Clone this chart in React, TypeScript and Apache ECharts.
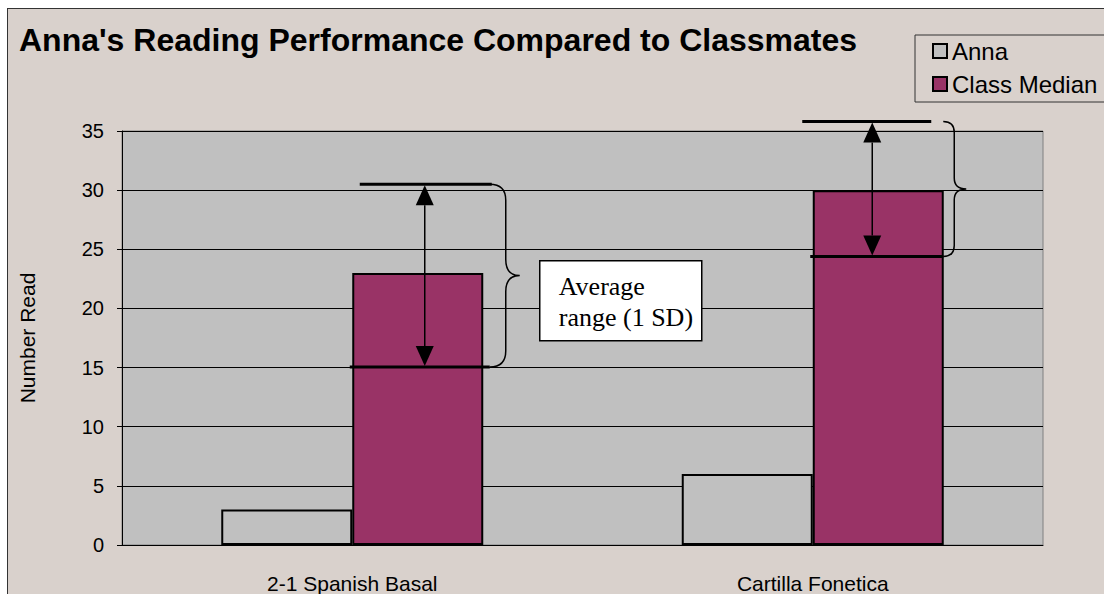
import React, { useEffect, useRef } from 'react';
import * as echarts from 'echarts';

// ---- data ----
const categories = ['2-1 Spanish Basal', 'Cartilla Fonetica'];
const annaValues = [3, 6];
const medianValues = [23, 30];
const sdLow = [15.05, 24.4];
const sdHigh = [30.5, 35.8];
const seriesNames = ['Anna', 'Class Median'];
const titleText = "Anna's Reading Performance Compared to Classmates";
const noteLines = ['Average', 'range (1 SD)'];

// ---- layout (annotation offsets relative to median bar centre) ----
const BAR_W = 131;
const annLayout = [
  { up: [-58, 74], low: [-68, 72], arrow: 7, brace: 72, r: 16, t: 14 },
  { up: [-76, 53], low: [-68, 65], arrow: -6, brace: 65, r: 11, t: 12 },
];

echarts.graphic.registerShape(
  'brace',
  (echarts.graphic as any).extendShape({
    shape: { x: 0, y1: 0, y2: 0, r: 15, t: 14 },
    buildPath(ctx: any, s: any) {
      const { x, y1, y2, r, t } = s;
      const ym = (y1 + y2) / 2;
      const xv = x + r;
      ctx.moveTo(x, y1);
      ctx.quadraticCurveTo(xv, y1, xv, y1 + r);
      ctx.lineTo(xv, ym - r);
      ctx.quadraticCurveTo(xv, ym, xv + t, ym);
      ctx.quadraticCurveTo(xv, ym, xv, ym + r);
      ctx.lineTo(xv, y2 - r);
      ctx.quadraticCurveTo(xv, y2, x, y2);
    },
  })
);

const SANS = 'Liberation Sans, Arial, sans-serif';
const SERIF = 'Liberation Serif, Times New Roman, serif';

export default function App() {
  const ref = useRef<HTMLDivElement>(null);
  useEffect(() => {
    if (!ref.current) return;
    const chart = echarts.init(ref.current, undefined, { renderer: 'svg' });
    chart.setOption({
      animation: false,
      backgroundColor: 'transparent',
      textStyle: { fontFamily: SANS },
      title: {
        text: titleText,
        left: 19,
        top: 24,
        padding: 0,
        textStyle: { fontSize: 32, fontWeight: 'bold', color: '#000', fontFamily: SANS },
      },
      legend: {
        orient: 'vertical',
        left: 915,
        top: 35,
        padding: [4, 20, 6, 17],
        itemGap: 9,
        itemWidth: 14,
        itemHeight: 14,
        icon: 'rect',
        borderColor: '#333',
        borderWidth: 1,
        textStyle: { fontSize: 24, color: '#000', fontFamily: SANS },
        data: [
          { name: seriesNames[0], itemStyle: { color: '#C0C0C0', borderColor: '#000', borderWidth: 2 } },
          { name: seriesNames[1], itemStyle: { color: '#993366', borderColor: '#000', borderWidth: 2 } },
        ],
      },
      grid: {
        left: 122,
        top: 131,
        right: 61,
        bottom: 49,
        show: true,
        backgroundColor: '#C0C0C0',
        borderColor: '#808080',
        borderWidth: 1,
      },
      xAxis: {
        type: 'category',
        data: categories,
        axisLine: { lineStyle: { color: '#000', width: 1 } },
        axisTick: { length: 6, lineStyle: { color: '#000' } },
        axisLabel: { fontSize: 21, color: '#000', margin: 28, fontFamily: SANS },
      },
      yAxis: {
        type: 'value',
        min: 0,
        max: 35,
        interval: 5,
        name: 'Number Read',
        nameLocation: 'middle',
        nameGap: 84,
        nameTextStyle: { fontSize: 21, color: '#000', fontFamily: SANS },
        axisLine: { show: true, lineStyle: { color: '#000' } },
        axisTick: { show: true, length: 5, lineStyle: { color: '#000' } },
        axisLabel: { fontSize: 20, color: '#000', margin: 18, fontFamily: SANS },
        splitLine: { lineStyle: { color: '#000', width: 1 } },
      },
      series: [
        {
          name: seriesNames[0],
          type: 'bar',
          data: annaValues,
          barWidth: BAR_W,
          barGap: '0%',
          itemStyle: { color: '#C0C0C0', borderColor: '#000', borderWidth: 2 },
        },
        {
          name: seriesNames[1],
          type: 'bar',
          data: medianValues,
          barWidth: BAR_W,
          barGap: '0%',
          itemStyle: { color: '#993366', borderColor: '#000', borderWidth: 2 },
        },
      ],
    });

    const elements: any[] = [];
    categories.forEach((_, i) => {
      const pHigh = chart.convertToPixel({ gridIndex: 0 }, [i, sdHigh[i]]) as number[];
      const pLow = chart.convertToPixel({ gridIndex: 0 }, [i, sdLow[i]]) as number[];
      const bc = pHigh[0] + BAR_W / 2;
      const yH = pHigh[1];
      const yL = pLow[1];
      const L = annLayout[i];
      const lineStyle = { stroke: '#000', lineWidth: 3 };
      elements.push({ type: 'line', z: 100, shape: { x1: bc + L.up[0], y1: yH, x2: bc + L.up[1], y2: yH }, style: lineStyle });
      elements.push({ type: 'line', z: 100, shape: { x1: bc + L.low[0], y1: yL, x2: bc + L.low[1], y2: yL }, style: lineStyle });
      const ax = bc + L.arrow;
      const hl = 21;
      const hw = 9;
      elements.push({ type: 'line', z: 100, shape: { x1: ax, y1: yH + hl, x2: ax, y2: yL - hl }, style: { stroke: '#000', lineWidth: 1.5 } });
      elements.push({ type: 'polygon', z: 100, shape: { points: [[ax, yH + 1], [ax - hw, yH + hl], [ax + hw, yH + hl]] }, style: { fill: '#000' } });
      elements.push({ type: 'polygon', z: 100, shape: { points: [[ax, yL - 1], [ax - hw, yL - hl], [ax + hw, yL - hl]] }, style: { fill: '#000' } });
      elements.push({
        type: 'brace',
        z: 100,
        shape: { x: bc + L.brace, y1: yH, y2: yL, r: L.r, t: L.t },
        style: { stroke: '#000', lineWidth: 1.5, fill: 'none' },
      });
    });
    elements.push({
      type: 'group',
      left: 539,
      top: 260,
      z: 100,
      children: [
        { type: 'rect', shape: { x: 0, y: 0, width: 162, height: 80 }, style: { fill: '#fff', stroke: '#000', lineWidth: 1.5 } },
        {
          type: 'text',
          x: 19,
          y: 10,
          style: { text: noteLines.join('\n'), font: `26px ${SERIF}`, fill: '#000', lineHeight: 31 },
        },
      ],
    });
    chart.setOption({ graphic: { elements } });
    return () => chart.dispose();
  }, []);

  return (
    <div style={{ position: 'absolute', left: 0, top: 0, width: 1104, height: 594, background: '#fff', overflow: 'hidden' }}>
      <div
        style={{
          position: 'absolute',
          left: 7,
          top: 8,
          width: 1200,
          height: 700,
          background: '#D9D1CC',
          borderLeft: '1px solid #333',
          borderTop: '1px solid #333',
        }}
      />
      <div ref={ref} style={{ position: 'absolute', left: 0, top: 0, width: 1104, height: 594 }} />
    </div>
  );
}
